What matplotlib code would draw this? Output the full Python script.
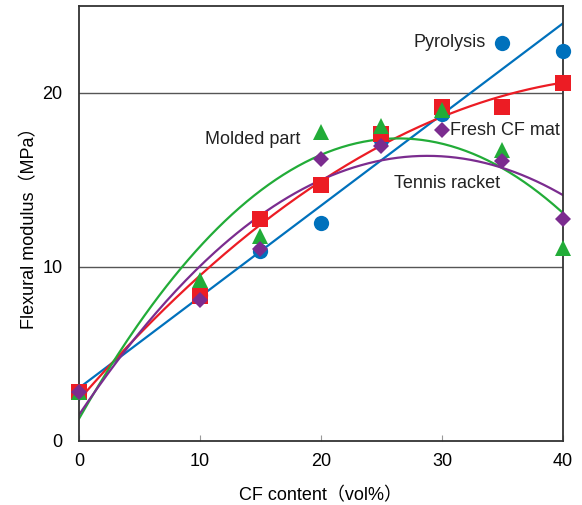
import numpy as np
import matplotlib
matplotlib.use('Agg')
from matplotlib import pyplot as plt

plt.rcParams['font.family'] = ['Liberation Sans', 'Noto Sans CJK JP']

x_vals = [0, 10, 15, 20, 25, 30, 35, 40]

pyrolysis = [2.82, 8.37, 10.9, 12.53, 17.3, 18.8, 22.9, 22.4]
fresh_mat = [2.82, 8.3, 12.78, 14.7, 17.67, 19.2, 19.2, 20.57]
molded = [2.8, 9.24, 11.76, 17.76, 18.09, 19.0, 16.7, 11.1]
racket = [2.82, 8.12, 11.0, 16.2, 16.95, 17.86, 16.1, 12.74]

blue = '#0071bc'
red = '#ec1c24'
green = '#22ac38'
purple = '#7b2c8f'

fig = plt.figure(figsize=(5.82, 5.05), dpi=100)
ax = fig.add_axes([0.1357, 0.1273, 0.8316, 0.8607])

xs = np.linspace(0, 40, 200)
x = np.array(x_vals)

series = [
    (pyrolysis, blue, 'o', 1, 11),
    (fresh_mat, red, 's', 2, 11),
    (molded, green, '^', 2, 11),
    (racket, purple, 'D', 2, 8.5),
]

for ys, col, mk, deg, ms in series:
    p = np.polyfit(x, np.array(ys), deg)
    ax.plot(xs, np.polyval(p, xs), color=col, lw=1.6, zorder=2)

for ys, col, mk, deg, ms in series:
    ax.plot(x, ys, linestyle='none', marker=mk, color=col, markersize=ms,
            markeredgewidth=0, zorder=3, clip_on=False)

ax.set_xlim(0, 40)
ax.set_ylim(0, 25)
ax.set_xticks([0, 10, 20, 30, 40])
ax.set_yticks([0, 10, 20])
ax.axhline(10, color='#555555', lw=1, zorder=1)
ax.axhline(20, color='#555555', lw=1, zorder=1)
ax.tick_params(direction='in', length=4, color='#999999', labelsize=13, pad=9)
ax.tick_params(axis='y', length=0, pad=12)
for s in ax.spines.values():
    s.set_color('#333333')
    s.set_linewidth(1.3)

ax.set_xlabel('CF content（vol%）', fontsize=13, labelpad=12)
ax.set_ylabel('Flexural modulus（MPa）', fontsize=13, labelpad=3)

ax.text(33.6, 22.9, 'Pyrolysis', fontsize=13, ha='right', va='center', color='#222222')
ax.text(30.7, 17.86, 'Fresh CF mat', fontsize=13, ha='left', va='center', color='#222222')
ax.text(18.3, 17.3, 'Molded part', fontsize=13, ha='right', va='center', color='#222222')
ax.text(26.0, 14.8, 'Tennis racket', fontsize=13, ha='left', va='center', color='#222222')

plt.savefig('out.png')
